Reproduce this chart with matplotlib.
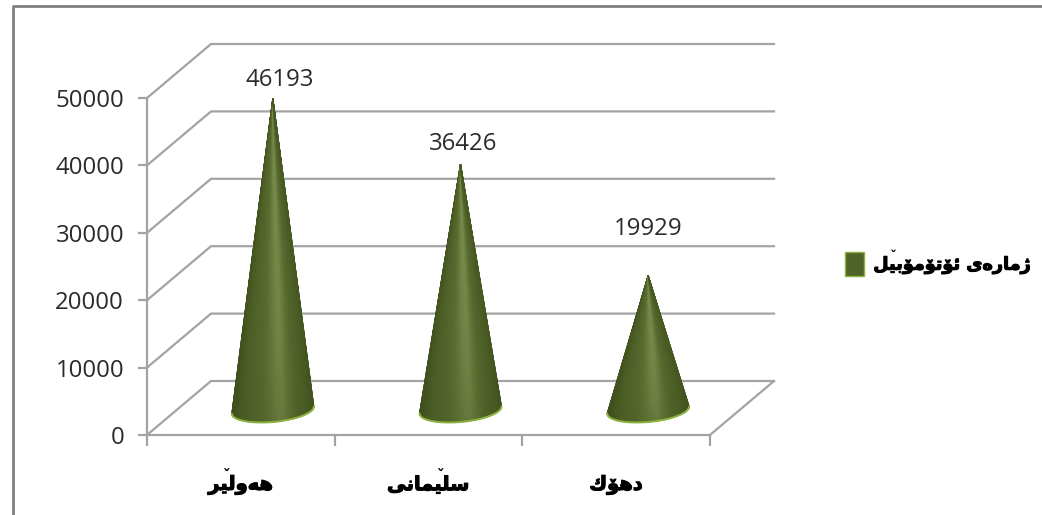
import matplotlib
matplotlib.use('Agg')
import matplotlib.pyplot as plt
import numpy as np
from matplotlib.colors import LinearSegmentedColormap
from matplotlib.font_manager import FontProperties
from matplotlib.lines import Line2D
from matplotlib.patches import Patch
from matplotlib.textpath import TextPath
import matplotlib.patheffects as pe

categories = ['هەولێر', 'سلێمانی', 'دهۆك']
values = [46193, 36426, 19929]
y_ticks = [0, 10000, 20000, 30000, 40000, 50000]
series_name = 'ژمارەی ئۆتۆمۆبێل'
label_offsets = [(5, 5), (2, 6), (0, 25)]

W, H = 1042, 515
PX_X0, PX_Y0 = 147, 435
PX_PER_CAT = 187.67
PX_PER_VAL = 337 / 50000
DEPTH_X = 64 / PX_PER_CAT
DEPTH_Y = 54 / PX_PER_VAL
GRID = '#a3a3a3'

# isolated, final, initial, medial; two forms only = does not join the next letter
FORMS = {
    'ه': 'ﻩﻪﻫﻬ', 'ە': 'ەﻪ', 'و': 'ﻭﻮ', 'ل': 'ﻝﻞﻟﻠ', 'ر': 'ﺭﺮ', 'س': 'ﺱﺲﺳﺴ',
    'م': 'ﻡﻢﻣﻤ', 'ا': 'ﺍﺎ', 'ن': 'ﻥﻦﻧﻨ', 'ی': 'ﯼﯽﯾﯿ', 'ێ': 'ﯼﯽﯾﯿ', 'د': 'ﺩﺪ', 'ۆ': 'ﯙﯚ',
    'ك': 'ﻙﻚﻛﻜ', 'ژ': 'ﮊﮋ', 'ئ': 'ﺉﺊﺋﺌ', 'ت': 'ﺕﺖﺗﺘ', 'ب': 'ﺏﺐﺑﺒ', ' ': ' ',
}
heavy_font = FontProperties(family='DejaVu Sans', weight='bold')


def shape(text):
    # matplotlib has no Arabic shaping, so pick the joined forms and draw right to left
    glyphs = []
    for i, c in enumerate(text):
        f = FORMS[c]
        joins_prev = i > 0 and len(FORMS[text[i - 1]]) == 4
        joins_next = i < len(text) - 1 and text[i + 1] != ' ' and len(f) == 4
        if len(f) == 1:
            g = f[0]
        elif joins_prev and joins_next:
            g = f[3]
        elif joins_prev:
            g = f[1]
        elif joins_next:
            g = f[2]
        else:
            g = f[0]
        glyphs.append(g)
    return ''.join(reversed(glyphs))


def text_width(s):
    return TextPath((0, 0), s, size=20, prop=heavy_font).get_extents().width


def add_marks(artist, logical, size):
    # the font has no joined ێ, so its small v goes on top of the joined ی
    visual = shape(logical)
    box = artist.get_window_extent()
    for i, c in enumerate(logical):
        if c == 'ێ':
            k = len(logical) - 1 - i
            x = box.x0 + box.width * (text_width(visual[:k + 1] + 'ا') - text_width('ا') - 0.5 * text_width(visual[k])) / text_width(visual)
            fig.text(x / W, (box.y1 - 1) / H, '\u02c7', ha='center', va='center', fontsize=size,
                     family='DejaVu Sans', fontweight='bold', color='black')


stroke = [pe.withStroke(linewidth=0.8, foreground='black')]

fig = plt.figure(figsize=(W / 100, H / 100), dpi=100, facecolor='white')
ax = fig.add_axes([0, 0, 1, 1], facecolor='none')
ax.set_xlim(-PX_X0 / PX_PER_CAT, (W - PX_X0) / PX_PER_CAT)
ax.set_ylim((PX_Y0 - H) / PX_PER_VAL, PX_Y0 / PX_PER_VAL)

# outer frame, only left and top show in the picture
fig.add_artist(Line2D([13 / W, 13 / W, 1], [0, 1 - 6 / H, 1 - 6 / H], color='#808080', lw=2))

# walls and floor
for v in y_ticks:
    ax.plot([0, DEPTH_X, 3 + DEPTH_X], [v, v + DEPTH_Y, v + DEPTH_Y], color=GRID, lw=1.6, zorder=1,
            solid_joinstyle='miter')
ax.plot([3 + DEPTH_X, 3], [DEPTH_Y, 0], color=GRID, lw=1.6, zorder=1)

for side in ['top', 'right']:
    ax.spines[side].set_visible(False)
ax.spines['left'].set_position(('data', 0))
ax.spines['bottom'].set_position(('data', 0))
ax.spines['left'].set_bounds(0, 50000)
ax.spines['bottom'].set_bounds(0, 3)
for side in ['left', 'bottom']:
    ax.spines[side].set_color(GRID)
    ax.spines[side].set_linewidth(1.6)

ax.set_yticks(y_ticks)
ax.set_xticks([0, 1, 2, 3])
ax.set_xticklabels([])
ax.set_xticks([0.5, 1.5, 2.5], minor=True)
cat_labels = ax.set_xticklabels([shape(c) for c in categories], minor=True, family='DejaVu Sans',
                                fontweight='bold', fontsize=14, color='black', path_effects=stroke)
ax.tick_params(axis='y', length=6.5, width=1.6, color=GRID, pad=10, labelsize=17.3, labelcolor='#2b2b2b')
ax.tick_params(axis='x', which='major', length=8, width=1.6, color=GRID)
ax.tick_params(axis='x', which='minor', length=0, pad=29)
for t in ax.get_yticklabels():
    t.set_family('Open Sans')

# cones
cone_cmap = LinearSegmentedColormap.from_list('cone', ['#2f3b14', '#4a5c24', '#5d6f33', '#7a8c4c'])
half_w = 41 / PX_PER_CAT
half_h = 12 / PX_PER_VAL
tilt = 3.5 / PX_PER_VAL
t = np.linspace(np.pi, 2 * np.pi, 61)
s = np.linspace(0, 1, 25)
# light falls slightly right of centre
u = np.cos(t)
shade = np.interp(u, [-1, -0.75, -0.3, 0.1, 0.25, 0.6, 1], [0.25, 0.42, 0.6, 0.95, 1.0, 0.55, 0.3])

for i, val in enumerate(values):
    cx = i + 0.5 + DEPTH_X / 2
    cy = DEPTH_Y / 2 - 2 / PX_PER_VAL
    apex_y = DEPTH_Y / 2 - 2 / PX_PER_VAL + val
    bx = cx + half_w * np.cos(t)
    by = cy + half_h * np.sin(t) + tilt * np.cos(t)
    X = cx + np.outer(s, bx - cx)
    Y = apex_y + np.outer(s, by - apex_y)
    C = np.outer(1 - 0.22 * s ** 3, shade)
    ax.pcolormesh(X, Y, C, cmap=cone_cmap, vmin=0, vmax=1, shading='gouraud', zorder=3)
    ax.plot(bx, by, color='#8db33f', lw=1.4, zorder=4, solid_capstyle='round')
    ax.annotate(str(val), (cx, apex_y), xytext=label_offsets[i], textcoords='offset points',
                ha='center', va='bottom', family='Open Sans', fontsize=17.3, color='#2b2b2b', zorder=5)

handle = Patch(facecolor='#4f6228', edgecolor='#8db33f', lw=1)
leg = ax.legend([handle], [shape(series_name)], loc='center left', bbox_to_anchor=(845 / W, 1 - 264 / H),
                frameon=False, handlelength=1.1, handleheight=1.8, handletextpad=0.5,
                borderpad=0, borderaxespad=0, prop={'family': 'DejaVu Sans', 'weight': 'bold', 'size': 12.7})
for txt in leg.get_texts():
    txt.set_path_effects(stroke)

fig.canvas.draw()
for lab, name in zip(cat_labels, categories):
    add_marks(lab, name, 11)
add_marks(leg.get_texts()[0], series_name, 10)

fig.savefig('out.png', dpi=100, facecolor='white')
